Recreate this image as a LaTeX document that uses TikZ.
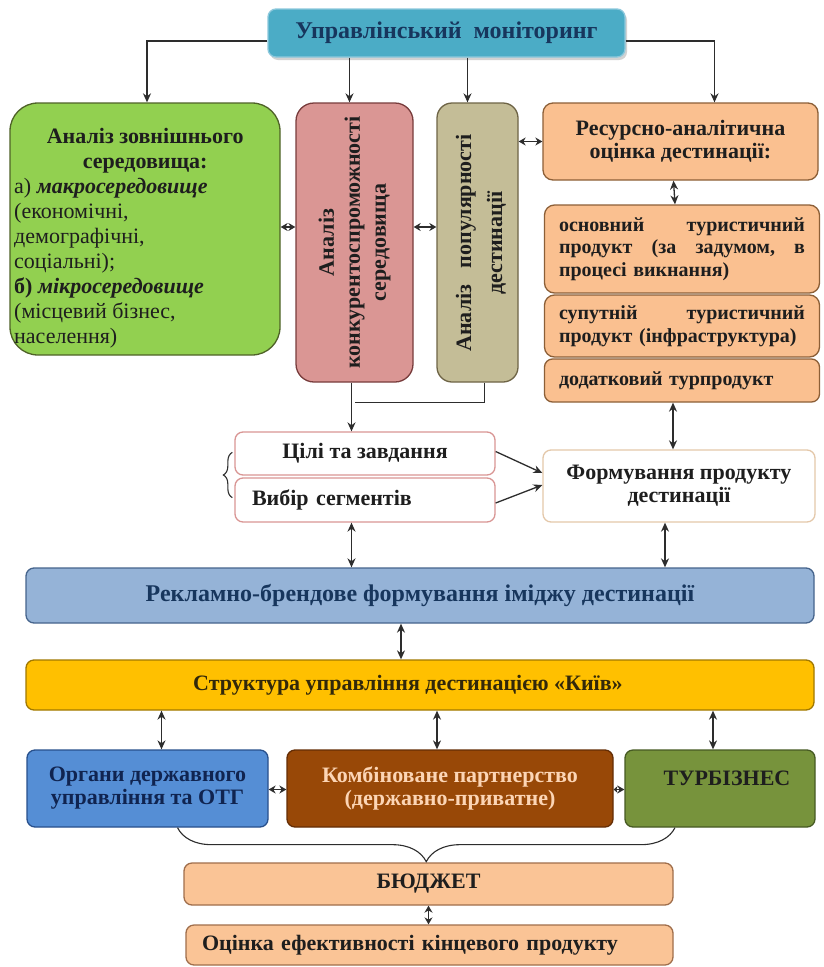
\documentclass[tikz,border=0pt]{standalone}
\usepackage{fontspec}
\setmainfont{Liberation Serif}
\usetikzlibrary{arrows.meta,shadows,decorations.pathreplacing,calc}
\definecolor{cmon}{RGB}{75,172,198}
\definecolor{cmonb}{RGB}{140,200,220}
\definecolor{cgreen}{RGB}{146,208,80}
\definecolor{cgreenb}{RGB}{79,98,40}
\definecolor{cpink}{RGB}{218,150,148}
\definecolor{cpinkb}{RGB}{120,60,60}
\definecolor{ckhaki}{RGB}{196,189,151}
\definecolor{ckhakib}{RGB}{110,100,70}
\definecolor{corange}{RGB}{250,192,144}
\definecolor{coranb}{RGB}{140,95,55}
\definecolor{cwpinkb}{RGB}{217,150,148}
\definecolor{cformb}{RGB}{228,200,170}
\definecolor{crek}{RGB}{149,179,215}
\definecolor{crekb}{RGB}{70,100,140}
\definecolor{cstr}{RGB}{255,192,0}
\definecolor{cstrb}{RGB}{160,120,0}
\definecolor{corg}{RGB}{85,142,213}
\definecolor{corgb}{RGB}{40,80,140}
\definecolor{ckomb}{RGB}{152,72,7}
\definecolor{ckombb}{RGB}{100,45,5}
\definecolor{ctur}{RGB}{119,147,60}
\definecolor{cturb}{RGB}{70,90,35}
\definecolor{cbud}{RGB}{250,196,150}
\definecolor{cbudb}{RGB}{160,110,75}
\definecolor{navy}{RGB}{23,54,93}
\definecolor{dtext}{RGB}{30,30,30}
\definecolor{kombt}{RGB}{252,213,181}
\definecolor{strt}{RGB}{50,40,10}
\definecolor{orgt}{RGB}{16,36,80}
\definecolor{linec}{RGB}{45,45,45}
\newcommand\bfs{\fontsize{22}{23}\selectfont\bfseries}
\newcommand\bfsm{\fontsize{20}{22.5}\selectfont\bfseries}
\newcommand\bfbig{\fontsize{24}{26}\selectfont\bfseries}
\begin{document}
\begin{tikzpicture}[x=1pt,y=-1pt,
  box/.style={draw, line width=1.3pt, rounded corners=8pt, font=\bfs, text=dtext, inner sep=0pt, anchor=center, align=center},
  arr/.style={draw=linec, line width=1.3pt, -{Stealth[length=9pt,width=8pt]}},
  dbl/.style={draw=linec, line width=1.3pt, {Stealth[length=9pt,width=8pt]}-{Stealth[length=9pt,width=8pt]}},
  dbls/.style={draw=linec, line width=1.4pt, {Stealth[length=7pt,width=8pt]}-{Stealth[length=7pt,width=8pt]}},
  plain/.style={draw=linec, line width=1.3pt}]
\useasboundingbox (0,0) rectangle (823,967);
\fill[white] (0,0) rectangle (823,967);

% top
\node[box, fill=cmon, draw=cmonb, minimum width=357pt, minimum height=48pt, text=navy, font=\bfbig,
  drop shadow={shadow xshift=2pt, shadow yshift=-3pt, opacity=.35}] (mon) at (446.5,33) {Управлінський\ \ моніторинг};

% upper row
\node[box, fill=cgreen, draw=cgreenb, rounded corners=28pt, minimum width=270pt, minimum height=252pt] (green) at (145,229) {};
\node[anchor=north west, inner sep=0pt, font=\fontsize{22}{25}\selectfont, text=dtext, align=left] (gtext) at (14,128)
 {\makebox[262pt][c]{\bfseries Аналіз зовнішнього}\\
  \makebox[262pt][c]{\bfseries середовища:}\\
  а) \textbf{\textit{макросередовище}}\\
  (економічні,\\
  демографічні,\\
  соціальні);\\
  \textbf{б)} \textbf{\textit{мікросередовище}}\\
  (місцевий бізнес,\\
  населення)};

\node[box, fill=cpink, draw=cpinkb, rounded corners=18pt, minimum width=117pt, minimum height=279pt] (pink) at (354.5,242.5) {};
\node[rotate=90, align=center, font=\fontsize{22}{26}\selectfont\bfseries, text=dtext, inner sep=0pt] (ptext) at (pink.center)
 {Аналіз\\конкурентоспроможності\\середовища};

\node[box, fill=ckhaki, draw=ckhakib, rounded corners=15pt, minimum width=81pt, minimum height=279pt] (khaki) at (477.5,242.5) {};
\node[rotate=90, align=center, font=\fontsize{22}{31}\selectfont\bfseries, text=dtext, inner sep=0pt] (ktext) at (481,243)
 {Аналіз\ \ \ популярності\\дестинації};

\node[box, fill=corange, draw=coranb, rounded corners=10pt, minimum width=275pt, minimum height=77pt] (res) at (680.5,141.5)
 {Ресурсно-аналітична\\оцінка дестинації:};
\node[box, fill=corange, draw=coranb, rounded corners=10pt, minimum width=275pt, minimum height=88pt, align=left, text width=246pt, font=\bfsm] (osn) at (682,249)
 {основний\hfill туристичний\\продукт\hfill (за\hfill задумом,\hfill в\\процесі викнання)};
\node[box, fill=corange, draw=coranb, rounded corners=10pt, minimum width=275pt, minimum height=62pt, align=left, text width=246pt, font=\bfsm] (sup) at (682,326)
 {супутній\hfill туристичний\\продукт (інфраструктура)};
\node[box, fill=corange, draw=coranb, rounded corners=8pt, minimum width=275pt, minimum height=43pt, align=left, text width=246pt, font=\bfsm] (dod) at (682,380.5)
 {додатковий турпродукт};

% middle row
\node[box, fill=white, draw=cwpinkb, minimum width=260pt, minimum height=43pt] (cili) at (365,453.5) {Цілі та завдання};
\node[box, fill=white, draw=cwpinkb, minimum width=260pt, minimum height=44pt, align=left, text width=226pt] (vyb) at (365,500) {Вибір сегментів};
\node[box, fill=white, draw=cformb, minimum width=272pt, minimum height=72pt] (form) at (679,486) {Формування продукту\\дестинації};

\node[box, fill=crek, draw=crekb, minimum width=788pt, minimum height=55pt, text=navy, font=\bfbig] (rek) at (420,595.5)
 {Рекламно-брендове формування іміджу дестинації};
\node[box, fill=cstr, draw=cstrb, minimum width=788pt, minimum height=50pt, text=strt] (str) at (420,685)
 {\kern-24pt Структура управління дестинацією «Київ»};

% lower row
\node[box, fill=corg, draw=corgb, minimum width=241pt, minimum height=77pt, text=orgt] (org) at (147.5,788.5)
 {Органи державного\\управління та ОТГ};
\node[box, fill=ckomb, draw=ckombb, minimum width=326pt, minimum height=77pt, text=kombt] (komb) at (450,788.5)
 {Комбіноване партнерство\\(державно-приватне)};
\node[box, fill=ctur, draw=cturb, minimum width=190pt, minimum height=77pt] (tur) at (720,788.5) {};
\node[font=\bfs, text=dtext, inner sep=0pt] (ttext) at (727,778) {ТУРБІЗНЕС};

\node[box, fill=cbud, draw=cbudb, minimum width=489pt, minimum height=42pt] (bud) at (428.5,884) {БЮДЖЕТ};
\node[box, fill=cbud, draw=cbudb, minimum width=487pt, minimum height=40pt, align=left, text width=455pt] (oc) at (429.5,945)
 {Оцінка ефективності кінцевого продукту};

% connectors from top
\draw[arr] ([yshift=-8pt]mon.west) -| ([xshift=2pt]green.north);
\draw[arr] ([yshift=-8pt]mon.east) -| ([xshift=34pt]res.north);
\draw[arr] ([xshift=-5pt]pink.north |- mon.south) -- ([xshift=-5pt]pink.north);
\draw[arr] ([xshift=-10pt]khaki.north |- mon.south) -- ([xshift=-10pt]khaki.north);

% horizontal double arrows
\draw[dbls] ([yshift=2pt]green.east) -- ([yshift=2pt]green.east -| pink.west);
\draw[dbls] ([yshift=2pt]pink.east |- green.east) -- ([yshift=2pt]khaki.west |- green.east);
\draw[dbls] (khaki.east |- res.west) -- (res.west);

% right column
\draw[dbl] ([xshift=-7pt]res.south) -- ([xshift=-7pt]osn.north);
\draw[dbl] ([xshift=-9pt]dod.south) -- ([xshift=-9pt]dod.south |- form.north);

% pink/khaki join
\draw[plain] ([xshift=7pt]khaki.south) |- ([yshift=-20pt]pink.south);
\draw[arr] ([xshift=-3pt]pink.south) -- ([xshift=-3pt]pink.south |- cili.north);

% brace
\draw[linec, line width=1.1pt, decorate, decoration={brace, amplitude=9pt}] ([xshift=-2pt,yshift=25pt]vyb.south west) -- ([xshift=-2pt,yshift=-21pt]cili.north west);

% to formation
\draw[arr] ([yshift=2pt]cili.east) -- ([yshift=13pt]form.west);
\draw[arr] ([yshift=-3pt]vyb.east) -- ([yshift=1pt]form.west);

% to rek
\draw[dbl] ([xshift=-3pt]pink.south |- vyb.south) -- ([xshift=-3pt]pink.south |- rek.north);
\draw[dbl] ([xshift=-14pt]form.south) -- ([xshift=-14pt]form.south |- rek.north);
\draw[dbl] ([xshift=-19pt]rek.south) -- ([xshift=-19pt]str.north);

% to lower row
\draw[dbl] ([xshift=14pt]org.north |- str.south) -- ([xshift=14pt]org.north);
\draw[dbl] ([xshift=-13pt]komb.north |- str.south) -- ([xshift=-13pt]komb.north);
\draw[dbl] ([xshift=-7pt]tur.north |- str.south) -- ([xshift=-7pt]tur.north);
\draw[dbls] ([yshift=-1pt]org.east) -- ([yshift=-1pt]komb.west);
\draw[draw=linec, line width=1.4pt, {Stealth[length=4pt,width=7pt]}-{Stealth[length=7pt,width=8pt]}] ([yshift=-1pt]komb.east) -- ([yshift=-1pt]tur.west);

% bottom brace
\draw[linec, line width=1.1pt, decorate, decoration={brace, amplitude=34pt}] ([xshift=-45pt]tur.south) -- ([xshift=30pt]org.south);
\draw[dbls] (bud.south) -- (bud.south |- oc.north);
\end{tikzpicture}
\end{document}
